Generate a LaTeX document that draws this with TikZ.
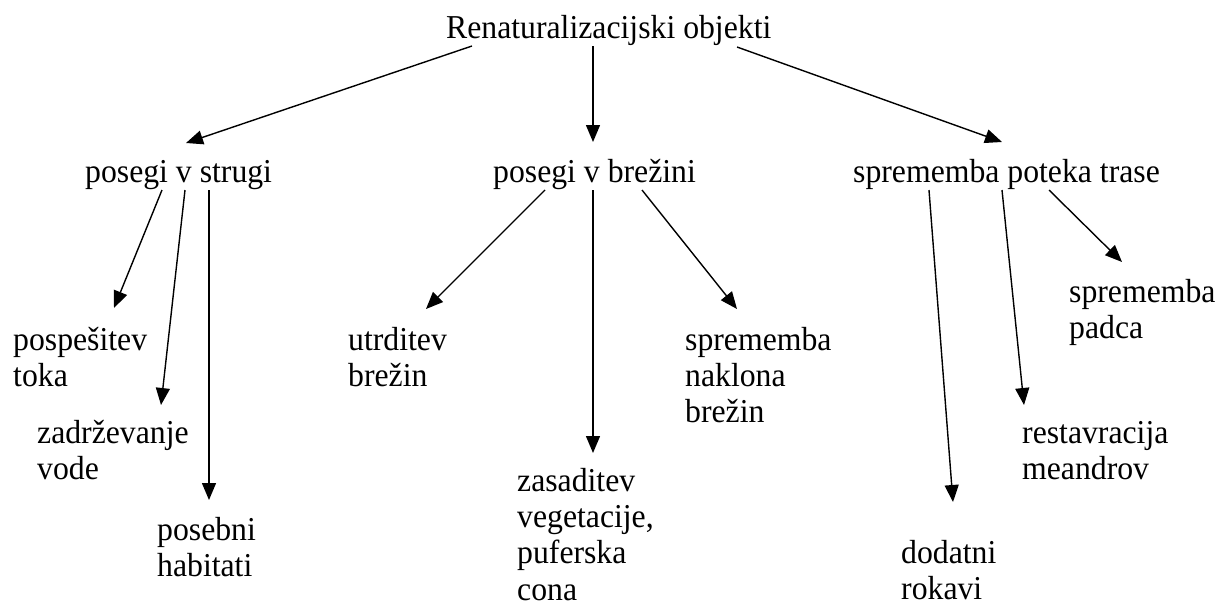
\documentclass[tikz,border=0pt]{standalone}
\usepackage{fontspec}
\setmainfont{Liberation Serif}[FakeStretch=0.95]
\usetikzlibrary{arrows.meta}
\begin{document}
\begin{tikzpicture}[x=1pt,y=-1pt,
  lbl/.style={anchor=north west, inner sep=0pt, align=left, font=\fontsize{33.4}{36.3}\selectfont},
  arr/.style={line width=1.4pt, -{Triangle[length=17pt,width=14pt]}}]
\useasboundingbox (0,0) rectangle (1219,605);
% labels
\node[lbl] (root) at (446,12.6) {\strut Renaturalizacijski objekti};
\node[lbl] (strugi) at (85,156.6) {\strut posegi v strugi};
\node[lbl] (brezini) at (493,156.6) {\strut posegi v brežini};
\node[lbl] (trase) at (853,156.6) {\strut sprememba poteka trase};
\node[lbl] (pospesitev) at (13,324.6) {\strut pospešitev\\\strut toka};
\node[lbl] (zadrz) at (37,417.6) {\strut zadrževanje\\\strut vode};
\node[lbl] (posebni) at (157,514.6) {\strut posebni\\habitati};
\node[lbl] (utrditev) at (348,324.6) {\strut utrditev\\\strut brežin};
\node[lbl] (zasaditev) at (517,465.6) {\strut zasaditev\\\strut vegetacije,\\\strut puferska\\cona};
\node[lbl] (naklon) at (685,324.6) {\strut sprememba\\\strut naklona\\\strut brežin};
\node[lbl] (padec) at (1069,276.6) {\strut sprememba\\\strut padca};
\node[lbl] (meandri) at (1022,417.6) {\strut restavracija\\\strut meandrov};
\node[lbl] (rokavi) at (901,538) {\strut dodatni\\rokavi};
% connector end points
\coordinate (r1) at (472,46);   \coordinate (r1t) at (186,143);
\coordinate (r2) at (593,46);   \coordinate (r2t) at (593,142);
\coordinate (r3) at (737,47);   \coordinate (r3t) at (1002,142);
\coordinate (s1) at (162,190);  \coordinate (s1t) at (114,308);
\coordinate (s2) at (185,190);  \coordinate (s2t) at (161,405);
\coordinate (s3) at (209,190);  \coordinate (s3t) at (209,500);
\coordinate (b1) at (545,190);  \coordinate (b1t) at (426,309);
\coordinate (b2) at (593,190);  \coordinate (b2t) at (593,453);
\coordinate (b3) at (642,190);  \coordinate (b3t) at (737,309);
\coordinate (t1) at (929,190);  \coordinate (t1t) at (953,502);
\coordinate (t2) at (1002,190); \coordinate (t2t) at (1024,405);
\coordinate (t3) at (1049,190); \coordinate (t3t) at (1122,262);
% connectors
\draw[arr] (r1) -- (r1t);
\draw[arr] (r2) -- (r2t);
\draw[arr] (r3) -- (r3t);
\draw[arr] (s1) -- (s1t);
\draw[arr] (s2) -- (s2t);
\draw[arr] (s3) -- (s3t);
\draw[arr] (b1) -- (b1t);
\draw[arr] (b2) -- (b2t);
\draw[arr] (b3) -- (b3t);
\draw[arr] (t1) -- (t1t);
\draw[arr] (t2) -- (t2t);
\draw[arr] (t3) -- (t3t);
\end{tikzpicture}
\end{document}
